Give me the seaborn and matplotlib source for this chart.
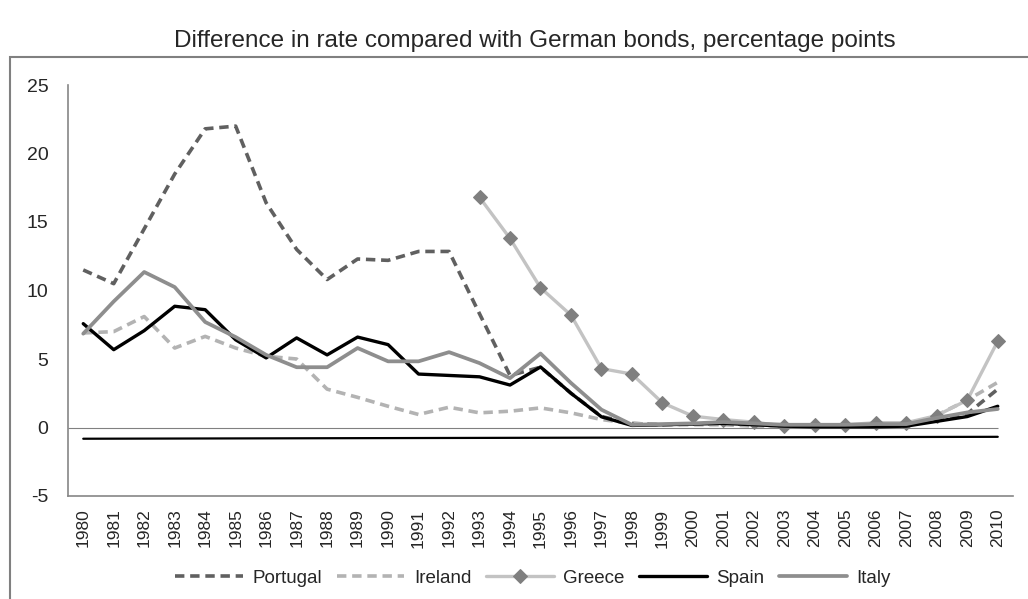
import numpy as np
import pandas as pd
import seaborn as sns
import matplotlib.pyplot as plt
from matplotlib.patches import Rectangle

years = list(range(1980, 2011))

portugal = [11.5, 10.5, 14.5, 18.5, 21.8, 22.0, 16.4, 13.0, 10.8, 12.3, 12.2, 12.85,
            12.85, 8.3, 3.8, 4.4, 2.5, 0.8, 0.3, 0.2, 0.25, 0.3, 0.2, 0.1, 0.1, 0.1,
            0.15, 0.2, 0.6, 1.0, 2.8]
ireland = [6.9, 7.0, 8.1, 5.8, 6.65, 5.8, 5.2, 5.0, 2.8, 2.2, 1.55, 0.95, 1.48, 1.07,
           1.19, 1.43, 1.07, 0.58, 0.3, 0.2, 0.2, 0.2, 0.1, 0.1, 0.1, 0.1, 0.1, 0.1,
           0.9, 2.0, 3.3]
greece_years = list(range(1993, 2011))
greece = [16.8, 13.8, 10.2, 8.2, 4.3, 3.9, 1.8, 0.83, 0.58, 0.39, 0.1, 0.15, 0.2,
          0.35, 0.35, 0.87, 2.0, 6.3]
spain = [7.58, 5.68, 7.07, 8.85, 8.6, 6.4, 5.08, 6.54, 5.3, 6.6, 6.05, 3.9, 3.8, 3.7,
         3.1, 4.42, 2.5, 0.78, 0.15, 0.2, 0.25, 0.3, 0.2, 0.1, 0.05, 0.05, 0.05, 0.1,
         0.45, 0.8, 1.55]
italy = [6.85, 9.2, 11.35, 10.25, 7.7, 6.6, 5.3, 4.4, 4.4, 5.8, 4.83, 4.83, 5.5, 4.7,
         3.6, 5.4, 3.25, 1.3, 0.2, 0.25, 0.3, 0.4, 0.3, 0.2, 0.2, 0.2, 0.25, 0.25,
         0.7, 1.1, 1.35]
baseline_years = [1980, 2010]
baseline = [-0.82, -0.68]

sns.set_style("white")
plt.rcParams["font.family"] = ["Liberation Sans", "DejaVu Sans"]
plt.rcParams["axes.unicode_minus"] = False

fig = plt.figure(figsize=(10.28, 5.99), dpi=100)
ax = fig.add_axes([68 / 1028, 1 - 496 / 599, (1013 - 68) / 1028, (496 - 85) / 599])

pos = {y: i for i, y in enumerate(years)}


def frame(ys, vals):
    return pd.DataFrame({"x": [pos[y] for y in ys], "v": vals})


ax.hlines(0, -0.5, pos[2010], color="#808080", lw=0.8, zorder=1)
d = frame(baseline_years, baseline)
sns.lineplot(data=d, x="x", y="v", ax=ax, color="black", lw=1.6, label="_nolegend_")

series = [
    ("Portugal", frame(years, portugal), dict(color="#606060", lw=2.6, linestyle=(0, (2.6, 1.6)))),
    ("Ireland", frame(years, ireland), dict(color="#b3b3b3", lw=2.6, linestyle=(0, (2.6, 1.6)))),
    ("Greece", frame(greece_years, greece), dict(color="#c3c3c3", lw=2.4, marker="D", markersize=7,
                                                 markerfacecolor="#7f7f7f", markeredgecolor="#7f7f7f")),
    ("Spain", frame(years, spain), dict(color="black", lw=2.4)),
    ("Italy", frame(years, italy), dict(color="#8e8e8e", lw=2.7)),
]
for name, d, kw in series:
    sns.lineplot(data=d, x="x", y="v", ax=ax, label=name, **kw)

ax.set_xlim(-0.5, 30.5)
ax.set_ylim(-5, 25)
ax.set_xlabel("")
ax.set_ylabel("")

for s in ["top", "right"]:
    ax.spines[s].set_visible(False)
for s in ["left", "bottom"]:
    ax.spines[s].set_color("#868686")
    ax.spines[s].set_linewidth(1.2)

ax.set_xticks(range(len(years)))
ax.set_xticklabels([str(y) for y in years], rotation=90, fontsize=12.5)
ax.set_xticks(np.arange(-0.5, len(years), 1), minor=True)
ax.tick_params(axis="x", which="major", length=0, pad=9)
ax.tick_params(axis="x", which="minor", direction="in", length=5, color="#868686", width=1)

ax.set_yticks(range(-5, 26, 5))
ax.tick_params(axis="y", direction="in", length=5, color="#868686", width=1, pad=14, labelsize=14)

ax.get_legend().remove()
handles, labels = ax.get_legend_handles_labels()
fig.legend(handles, labels, loc="center", bbox_to_anchor=(533 / 1028, 1 - 578 / 599), ncol=5,
           frameon=False, handlelength=3.6, handletextpad=0.5, columnspacing=0.8,
           prop={"size": 13.5})

fig.text(535 / 1028, 1 - 41 / 599, "Difference in rate compared with German bonds, percentage points",
         ha="center", va="center", fontsize=17.5)

fig.patches.append(Rectangle((10 / 1028, -0.05), 1.1, 1 - 57 / 599 + 0.05, transform=fig.transFigure,
                             fill=False, edgecolor="#808080", lw=1.5))

fig.savefig("out.png", dpi=100)
